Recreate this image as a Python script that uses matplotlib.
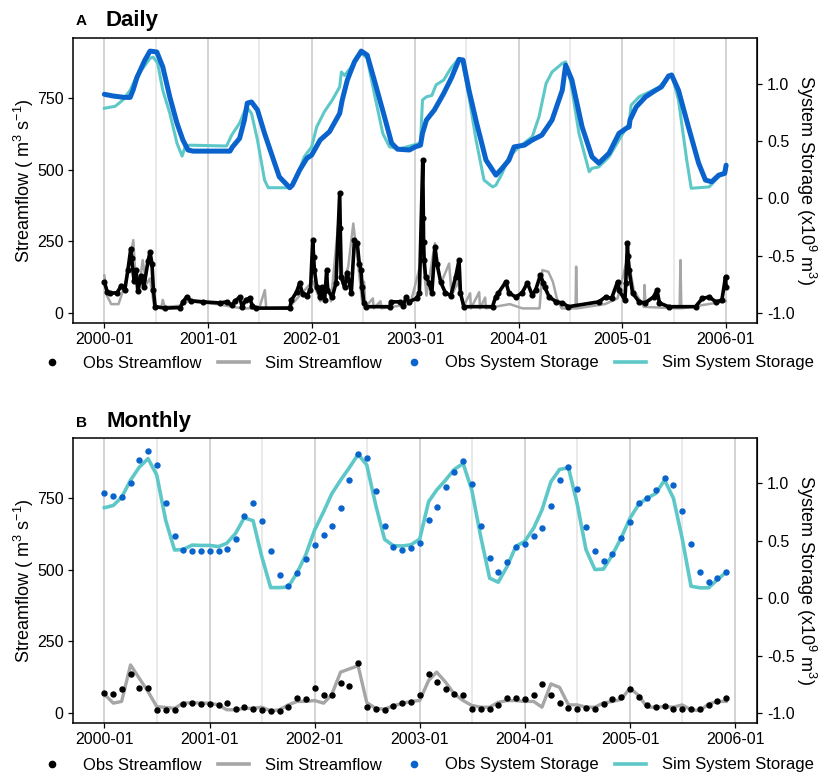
import matplotlib
matplotlib.use("Agg")
import matplotlib.pyplot as plt
from matplotlib.lines import Line2D
import numpy as np
import pandas as pd

plt.rcParams['font.family'] = ['Liberation Sans', 'DejaVu Sans']
plt.rcParams['mathtext.fontset'] = 'custom'
plt.rcParams['mathtext.rm'] = 'Liberation Sans'
plt.rcParams['mathtext.it'] = 'Liberation Sans'

# ---------------- daily data ----------------
obs_sto_d_dates = ["2000-01-01", "2000-02-01", "2000-03-12", "2000-04-01", "2000-04-11", "2000-04-25",
                   "2000-05-23", "2000-06-10", "2000-07-04", "2000-07-25", "2000-08-19", "2000-09-13",
                   "2000-10-04", "2000-10-22", "2000-11-09", "2001-03-19", "2001-03-28", "2001-04-22",
                   "2001-05-09", "2001-05-19", "2001-06-03", "2001-06-24", "2001-07-19", "2001-08-16",
                   "2001-09-09", "2001-10-16", "2001-10-25", "2001-11-20", "2001-12-15", "2002-01-01",
                   "2002-01-31", "2002-03-05", "2002-04-10", "2002-04-19", "2002-05-07", "2002-06-01",
                   "2002-06-25", "2002-07-16", "2002-08-10", "2002-09-15", "2002-10-10", "2002-10-31",
                   "2002-12-12", "2003-01-01", "2003-01-20", "2003-01-27", "2003-02-10", "2003-03-10",
                   "2003-04-12", "2003-05-10", "2003-06-05", "2003-06-19", "2003-07-10", "2003-08-06",
                   "2003-09-08", "2003-10-13", "2003-11-04", "2003-11-28", "2003-12-16", "2004-01-21",
                   "2004-02-18", "2004-03-23", "2004-04-28", "2004-06-03", "2004-06-15", "2004-07-07",
                   "2004-08-12", "2004-09-16", "2004-10-10", "2004-11-15", "2004-12-20", "2005-01-15",
                   "2005-01-25", "2005-01-28", "2005-02-19", "2005-03-24", "2005-04-28", "2005-05-19",
                   "2005-06-13", "2005-06-24", "2005-07-18", "2005-08-22", "2005-09-27", "2005-10-21",
                   "2005-11-12", "2005-12-07", "2005-12-28", "2006-01-02"]
obs_sto_d = [0.91, 0.895, 0.883, 0.883, 0.945, 1.058,
             1.21, 1.288, 1.28, 1.15, 0.885, 0.658,
             0.51, 0.423, 0.413, 0.413, 0.45, 0.525,
             0.685, 0.833, 0.843, 0.773, 0.568, 0.363,
             0.188, 0.093, 0.115, 0.248, 0.35, 0.378,
             0.51, 0.583, 0.743, 0.86, 1.035, 1.193,
             1.288, 1.253, 1.035, 0.713, 0.483, 0.43,
             0.423, 0.45, 0.465, 0.568, 0.685, 0.773,
             0.918, 1.058, 1.215, 1.21, 0.945, 0.658,
             0.335, 0.203, 0.263, 0.335, 0.45, 0.465,
             0.51, 0.553, 0.685, 0.945, 1.165, 1.035,
             0.625, 0.363, 0.308, 0.395, 0.568, 0.613,
             0.625, 0.685, 0.80, 0.888, 0.945, 0.975,
             1.07, 1.078, 0.945, 0.625, 0.308, 0.16,
             0.145, 0.203, 0.218, 0.29]

sim_sto_d_dates = ["2000-01-01", "2000-02-08", "2000-03-06", "2000-04-01", "2000-04-25", "2000-05-16",
                   "2000-06-10", "2000-06-21", "2000-07-07", "2000-07-25", "2000-08-19", "2000-09-13",
                   "2000-10-01", "2000-10-12", "2000-10-28", "2001-03-07", "2001-03-25", "2001-04-22",
                   "2001-05-16", "2001-06-03", "2001-06-24", "2001-07-19", "2001-08-01", "2001-10-16",
                   "2001-11-09", "2001-12-06", "2002-01-01", "2002-01-19", "2002-02-15", "2002-03-15",
                   "2002-04-10", "2002-04-16", "2002-04-27", "2002-05-21", "2002-06-07", "2002-06-28",
                   "2002-07-16", "2002-08-10", "2002-09-09", "2002-10-03", "2002-11-07", "2003-01-20",
                   "2003-01-27", "2003-02-10", "2003-03-01", "2003-03-16", "2003-04-12", "2003-05-07",
                   "2003-06-05", "2003-06-16", "2003-07-10", "2003-08-04", "2003-09-01", "2003-10-01",
                   "2003-10-13", "2003-11-04", "2003-11-28", "2004-01-03", "2004-02-18", "2004-03-13",
                   "2004-04-07", "2004-04-28", "2004-06-03", "2004-06-15", "2004-07-04", "2004-08-01",
                   "2004-09-06", "2004-09-16", "2004-10-10", "2004-11-15", "2004-12-20", "2005-01-25",
                   "2005-02-01", "2005-03-01", "2005-05-10", "2005-06-07", "2005-06-24", "2005-07-18",
                   "2005-08-16", "2005-09-01", "2005-11-03", "2005-12-07", "2006-01-01"]
sim_sto_d = [0.788, 0.805, 0.86, 0.945, 1.075, 1.138,
             1.225, 1.235, 1.183, 0.945, 0.743, 0.483,
             0.37, 0.45, 0.465, 0.458, 0.553, 0.658,
             0.80, 0.743, 0.51, 0.16, 0.093, 0.093,
             0.188, 0.363, 0.45, 0.625, 0.758, 0.86,
             0.975, 1.105, 1.075, 1.15, 1.235, 1.265,
             1.225, 0.918, 0.568, 0.45, 0.433, 0.483,
             0.86, 0.888, 0.90, 0.993, 1.035, 1.138,
             1.225, 1.21, 0.888, 0.51, 0.16, 0.10,
             0.115, 0.218, 0.363, 0.45, 0.538, 0.713,
             1.005, 1.105, 1.18, 1.193, 1.005, 0.568,
             0.233, 0.263, 0.275, 0.363, 0.51, 0.658,
             0.815, 0.888, 0.97, 1.05, 1.088, 0.86,
             0.335, 0.088, 0.10, 0.188, 0.248]

obs_flow_d_dates = ["2000-01-01", "2000-01-11", "2000-01-21", "2000-02-15", "2000-03-01", "2000-03-13",
                    "2000-03-24", "2000-04-03", "2000-04-06", "2000-04-15", "2000-04-22", "2000-04-28",
                    "2000-05-09", "2000-05-19", "2000-06-03", "2000-06-10", "2000-06-17", "2000-06-22",
                    "2000-06-28", "2000-08-02", "2000-09-25", "2000-10-04", "2000-10-18", "2000-10-31",
                    "2000-12-13", "2001-02-12", "2001-03-07", "2001-03-25", "2001-04-06", "2001-04-22",
                    "2001-05-01", "2001-05-14", "2001-05-27", "2001-06-06", "2001-06-18", "2001-10-16",
                    "2001-10-22", "2001-11-09", "2001-11-20", "2001-11-30", "2001-12-15", "2001-12-28",
                    "2002-01-05", "2002-01-08", "2002-01-11", "2002-01-19", "2002-02-01", "2002-02-06",
                    "2002-02-16", "2002-02-23", "2002-02-26", "2002-03-15", "2002-03-28", "2002-04-10",
                    "2002-04-12", "2002-04-15", "2002-04-27", "2002-05-07", "2002-05-21", "2002-06-01",
                    "2002-06-11", "2002-06-18", "2002-06-24", "2002-06-28", "2002-07-04", "2002-07-12",
                    "2002-10-03", "2002-10-09", "2002-11-07", "2002-11-20", "2002-12-01", "2002-12-10",
                    "2003-01-06", "2003-01-16", "2003-01-28", "2003-01-30", "2003-01-31", "2003-02-02",
                    "2003-02-07", "2003-02-20", "2003-03-01", "2003-03-12", "2003-03-19", "2003-04-01",
                    "2003-04-18", "2003-05-07", "2003-05-24", "2003-06-05", "2003-06-10", "2003-06-22",
                    "2003-10-01", "2003-10-12", "2003-10-22", "2003-11-17", "2003-11-28", "2003-12-22",
                    "2004-01-13", "2004-02-01", "2004-02-18", "2004-03-01", "2004-03-18", "2004-03-28",
                    "2004-04-02", "2004-04-18", "2004-05-13", "2004-06-03", "2004-06-25", "2004-10-10",
                    "2004-11-03", "2004-11-24", "2004-12-15", "2004-12-20", "2005-01-10", "2005-01-13",
                    "2005-01-19", "2005-01-21", "2005-01-25", "2005-02-06", "2005-03-01", "2005-03-22",
                    "2005-04-21", "2005-05-03", "2005-05-12", "2005-06-13", "2005-09-16", "2005-10-10",
                    "2005-11-03", "2005-11-27", "2005-12-18", "2005-12-31", "2006-01-02"]
obs_flow_d = [108, 73, 68, 70, 95, 79,
              150, 222, 190, 110, 150, 75,
              130, 90, 180, 212, 170, 79,
              21, 16, 18, 38, 56, 42,
              38, 34, 38, 27, 40, 55,
              21, 45, 51, 25, 16, 16,
              44, 73, 104, 65, 60, 80,
              254, 195, 149, 90, 55, 90,
              44, 149, 79, 55, 104, 418,
              296, 125, 90, 138, 69, 254,
              243, 172, 149, 90, 34, 21,
              21, 38, 38, 25, 55, 38,
              50, 69, 533, 330, 247, 184,
              125, 104, 69, 230, 172, 108,
              69, 60, 125, 184, 69, 21,
              21, 55, 69, 108, 69, 55,
              69, 104, 62, 79, 132, 104,
              90, 55, 38, 34, 21, 38,
              55, 50, 108, 79, 44, 104,
              243, 199, 149, 69, 38, 34,
              55, 79, 34, 21, 21, 50,
              55, 38, 44, 126, 90]

sim_flow_d_dates = ["2000-01-01", "2000-01-10", "2000-01-25", "2000-02-20", "2000-03-01", "2000-03-20",
                    "2000-04-12", "2000-04-20", "2000-05-01", "2000-05-15", "2000-05-28", "2000-06-10",
                    "2000-06-25", "2000-07-20", "2000-07-25", "2000-08-01", "2000-10-01", "2000-10-15",
                    "2001-02-01", "2001-05-01", "2001-06-30", "2001-07-20", "2001-07-25", "2001-10-15",
                    "2001-11-20", "2002-01-05", "2002-02-01", "2002-02-25", "2002-03-10", "2002-04-10",
                    "2002-04-20", "2002-05-10", "2002-05-28", "2002-06-15", "2002-06-28", "2002-07-05",
                    "2002-07-10", "2002-08-05", "2002-08-08", "2002-09-01", "2002-09-04", "2002-12-15",
                    "2003-01-28", "2003-02-10", "2003-03-12", "2003-04-01", "2003-05-01", "2003-05-10",
                    "2003-06-01", "2003-06-20", "2003-07-14", "2003-07-17", "2003-08-15", "2003-08-18",
                    "2003-09-05", "2003-09-08", "2003-12-01", "2004-01-15", "2004-03-15", "2004-03-25",
                    "2004-04-15", "2004-05-01", "2004-05-15", "2004-06-01", "2004-07-20", "2004-07-22",
                    "2004-07-25", "2004-11-01", "2004-12-15", "2005-01-20", "2005-02-10", "2005-03-18",
                    "2005-03-20", "2005-03-24", "2005-07-22", "2005-07-25", "2005-07-28", "2005-11-01",
                    "2006-01-01"]
sim_flow_d = [130, 60, 30, 30, 60, 120,
              254, 120, 70, 184, 100, 120,
              20, 20, 45, 20, 25, 40,
              30, 15, 15, 79, 15, 20,
              60, 110, 40, 120, 40, 365,
              100, 160, 312, 160, 40, 108,
              20, 50, 15, 40, 15, 30,
              200, 60, 243, 100, 172, 60,
              108, 20, 68, 15, 72, 15,
              53, 15, 30, 15, 15, 149,
              143, 108, 50, 15, 15, 161,
              15, 30, 50, 195, 80, 20,
              97, 20, 15, 184, 15, 30,
              40]

# ---------------- monthly data ----------------
month_start = "2000-01-01"
n_months = 72
obs_sto_m = [0.912, 0.893, 0.883, 1.005, 1.203, 1.283, 1.163, 0.828, 0.545, 0.420, 0.413, 0.408,
             0.408, 0.415, 0.428, 0.513, 0.713, 0.825, 0.675, 0.415, 0.200, 0.108, 0.218, 0.338,
             0.468, 0.550, 0.633, 0.788, 1.025, 1.258, 1.223, 0.930, 0.633, 0.450, 0.420, 0.435,
             0.480, 0.677, 0.792, 0.965, 1.101, 1.196, 0.994, 0.633, 0.351, 0.227, 0.316, 0.443,
             0.472, 0.544, 0.608, 0.804, 1.029, 1.144, 0.951, 0.619, 0.414, 0.322, 0.385, 0.524,
             0.662, 0.827, 0.870, 0.942, 1.043, 0.988, 0.763, 0.469, 0.232, 0.143, 0.180, 0.229]
sim_sto_m = [0.788, 0.808, 0.878, 1.028, 1.140, 1.215, 1.073, 0.680, 0.420, 0.425, 0.463, 0.460,
             0.460, 0.450, 0.478, 0.565, 0.700, 0.675, 0.363, 0.093, 0.093, 0.098, 0.223, 0.378,
             0.595, 0.753, 0.908, 1.028, 1.135, 1.253, 1.160, 0.813, 0.513, 0.458, 0.455, 0.465,
             0.515, 0.841, 0.942, 1.029, 1.121, 1.173, 0.942, 0.538, 0.175, 0.140, 0.278, 0.452,
             0.495, 0.610, 0.769, 1.014, 1.121, 1.136, 0.827, 0.423, 0.250, 0.255, 0.380, 0.524,
             0.697, 0.821, 0.870, 0.913, 1.029, 0.870, 0.524, 0.105, 0.091, 0.091, 0.163, 0.227]
obs_flow_m = [72, 67, 83, 137, 87, 87, 12, 12, 12, 31, 37, 32,
              32, 29, 35, 15, 20, 15, 12, 9, 9, 20, 52, 50,
              89, 64, 64, 104, 95, 176, 21, 15, 12, 26, 37, 39,
              62, 136, 110, 86, 67, 64, 13, 15, 13, 29, 53, 53,
              48, 63, 100, 64, 37, 19, 15, 17, 13, 32, 48, 58,
              85, 56, 29, 23, 24, 15, 15, 13, 13, 27, 44, 53]
sim_flow_m = [66, 35, 41, 168, 122, 75, 23, 20, 17, 35, 37, 35,
              35, 29, 12, 12, 17, 17, 21, 8, 12, 29, 41, 41,
              44, 35, 64, 143, 154, 165, 37, 17, 14, 26, 34, 41,
              44, 114, 143, 108, 67, 44, 27, 21, 21, 38, 44, 44,
              41, 41, 21, 102, 90, 29, 29, 21, 21, 36, 41, 48,
              87, 61, 21, 21, 23, 21, 29, 12, 9, 32, 41, 41]

year_ticks = ["2000-01", "2001-01", "2002-01", "2003-01", "2004-01", "2005-01", "2006-01"]

C_OBS_FLOW = "black"
C_SIM_FLOW = "#a6a6a6"
C_OBS_STO = "#0a63cc"
C_SIM_STO = "#5ec8c8"


def to_flow(s):
    # storage is drawn on the streamflow scale: -1 -> 0, 1 -> 800
    return 400.0 * (np.asarray(s) + 1.0)


def to_storage(f):
    return np.asarray(f) / 400.0 - 1.0


def style_axes(ax, dates, ylim):
    span = dates.max() - dates.min()
    ax.set_xlim(dates.min() - 0.05 * span, dates.max() + 0.05 * span)
    ax.set_ylim(*ylim)
    ticks = pd.to_datetime(year_ticks)
    ax.set_xticks(ticks)
    ax.set_xticklabels(year_ticks)
    ax.grid(False)
    for t in ticks:
        ax.axvline(t, color="#c8c8c8", lw=1.1, zorder=0)
    for y in range(2000, 2006):
        ax.axvline(pd.Timestamp(f"{y}-07-01"), color="#e4e4e4", lw=1.1, zorder=0)
    ax.set_yticks([0, 250, 500, 750])
    ax.tick_params(axis="both", which="major", labelsize=11.5, length=3.5, width=0.9, colors="black")
    for sp in ax.spines.values():
        sp.set_linewidth(1.1)
        sp.set_color("black")
    ax.set_ylabel("Streamflow ( m$^3$ s$^{-1}$)", fontsize=13, labelpad=1)
    sec = ax.secondary_yaxis("right", functions=(to_storage, to_flow))
    sec.set_yticks([-1.0, -0.5, 0.0, 0.5, 1.0])
    sec.set_yticklabels(["-1.0", "-0.5", "0.0", "0.5", "1.0"])
    sec.tick_params(labelsize=11.5, length=3.5, width=0.9)
    sec.set_ylabel("System Storage (x10$^9$ m$^3$)", fontsize=13, rotation=270, labelpad=17)


fig = plt.figure(figsize=(8.29, 7.84), dpi=100)
axA = fig.add_axes([0.0884, 0.5884, 0.825, 0.3635])
axB = fig.add_axes([0.0884, 0.0782, 0.825, 0.3628])

# panel A - daily
d_obs_sto = pd.to_datetime(obs_sto_d_dates)
d_sim_sto = pd.to_datetime(sim_sto_d_dates)
d_obs_flow = pd.to_datetime(obs_flow_d_dates)
d_sim_flow = pd.to_datetime(sim_flow_d_dates)

axA.plot(d_sim_flow, sim_flow_d, color=C_SIM_FLOW, lw=1.8, zorder=2)
axA.plot(d_obs_flow, obs_flow_d, color=C_OBS_FLOW, lw=2.6, marker="o", ms=3.4, zorder=3)
axA.plot(d_sim_sto, to_flow(sim_sto_d), color=C_SIM_STO, lw=2.2, zorder=4)
axA.plot(d_obs_sto, to_flow(obs_sto_d), color=C_OBS_STO, lw=3.6, zorder=5,
         solid_capstyle="round", solid_joinstyle="round")
style_axes(axA, d_obs_sto.union(d_sim_sto), (-35, 962))

# panel B - monthly
months = pd.date_range(month_start, periods=n_months, freq="MS")
axB.plot(months, sim_flow_m, color=C_SIM_FLOW, lw=2.4, zorder=2)
axB.plot(months, obs_flow_m, "o", color=C_OBS_FLOW, ms=3.6, zorder=3)
axB.plot(months, to_flow(sim_sto_m), color=C_SIM_STO, lw=2.6, zorder=4)
axB.plot(months, to_flow(obs_sto_m), "o", color=C_OBS_STO, ms=3.6, zorder=5)
style_axes(axB, months, (-33, 957))

# panel titles
fig.text(76 / 829, 1 - 25 / 784, "A", fontsize=11, fontweight="bold", va="baseline")
fig.text(106 / 829, 1 - 26 / 784, "Daily", fontsize=16, fontweight="bold", va="baseline")
fig.text(76 / 829, 1 - 427 / 784, "B", fontsize=11, fontweight="bold", va="baseline")
fig.text(107 / 829, 1 - 427 / 784, "Monthly", fontsize=16, fontweight="bold", va="baseline")

handles = [
    Line2D([], [], color=C_OBS_FLOW, marker="o", ls="none", ms=4.5),
    Line2D([], [], color=C_SIM_FLOW, lw=2.6),
    Line2D([], [], color=C_OBS_STO, marker="o", ls="none", ms=4.5),
    Line2D([], [], color=C_SIM_STO, lw=2.6),
]
labels = ["Obs Streamflow", "Sim Streamflow", "Obs System Storage", "Sim System Storage"]
for yc in (1 - 363 / 784, 1 - 765 / 784):
    fig.legend(handles, labels, loc="center", bbox_to_anchor=(425 / 829, yc), ncol=4,
               frameon=False, fontsize=12, handlelength=1.9, handletextpad=0.95,
               columnspacing=0.95, borderaxespad=0, borderpad=0)

fig.savefig("out.png", dpi=100)
